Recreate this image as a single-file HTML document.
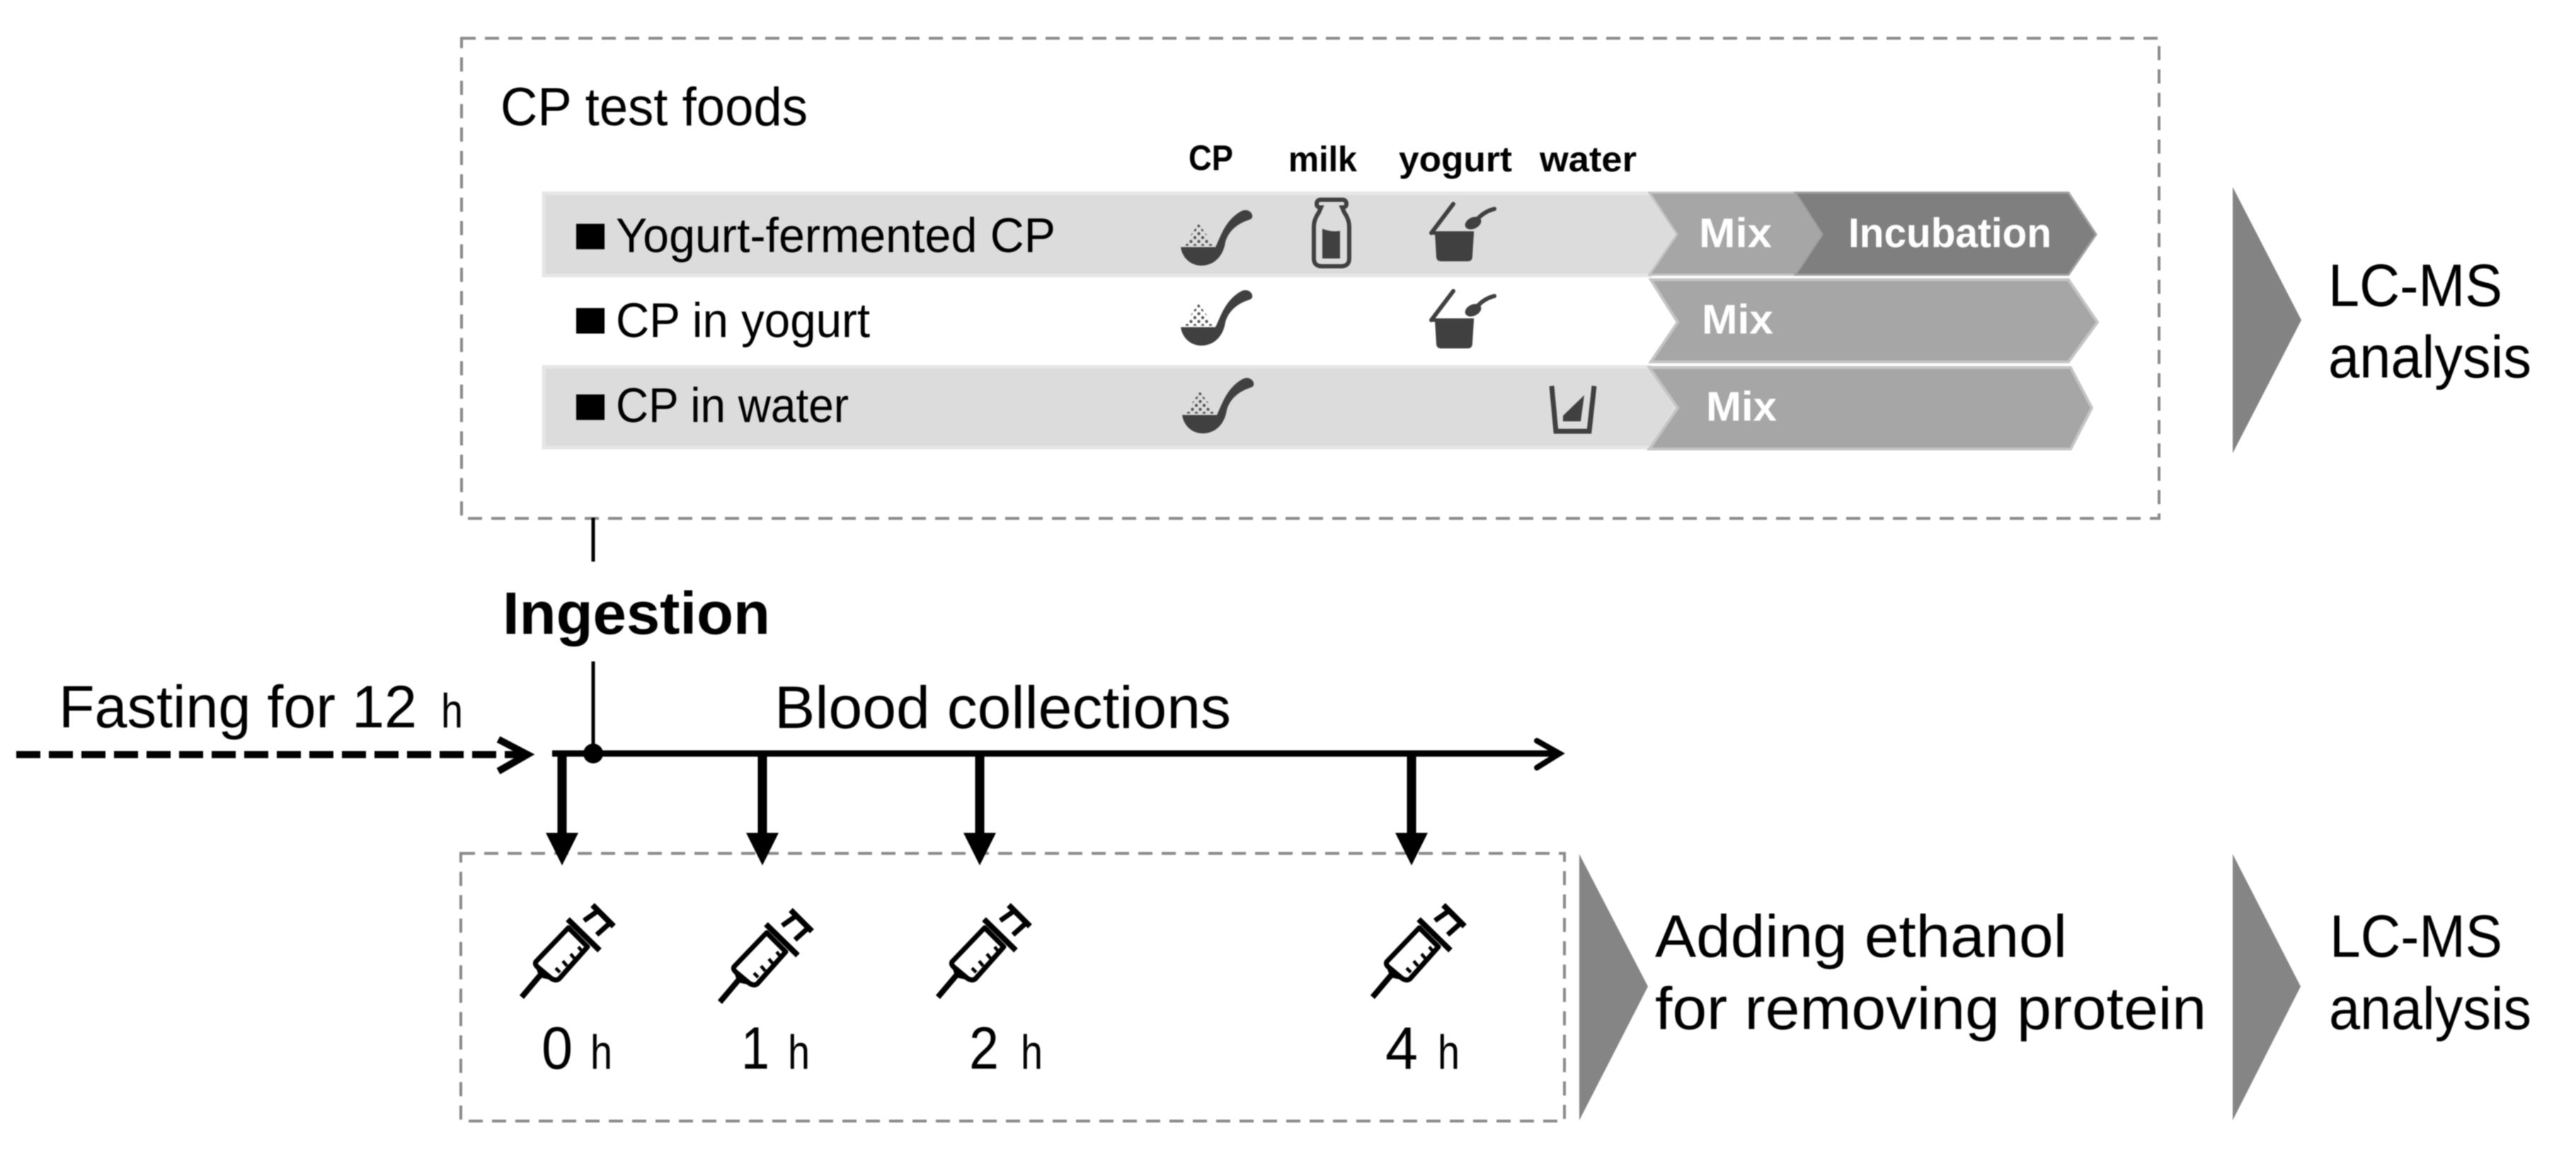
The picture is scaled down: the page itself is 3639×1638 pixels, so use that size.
<!DOCTYPE html>
<html>
<head>
<meta charset="utf-8">
<style>
html,body{margin:0;padding:0;background:#fff;width:3639px;height:1638px;overflow:hidden}
svg{display:block;filter:blur(0.7px)}
text{font-family:"Liberation Sans",sans-serif;fill:#000}
.b{font-weight:bold}
.w{font-weight:bold;fill:#fff;font-size:58px}
.l{font-size:84px}
.r{font-size:69px}
.h{font-size:50px;font-weight:bold}
.u{font-size:68px}
</style>
</head>
<body>
<svg width="3639" height="1638" viewBox="0 0 3639 1638" xmlns="http://www.w3.org/2000/svg">
<defs>
<pattern id="dots" width="11" height="11" patternUnits="userSpaceOnUse" x="1688" y="316">
<circle cx="5.500" cy="3" r="2.200" fill="#555"/>
<circle cx="0" cy="8.500" r="2.200" fill="#555"/>
<circle cx="11" cy="8.500" r="2.200" fill="#555"/>
</pattern>
<g id="spoon">
<polygon points="1693,316 1716,347 1672,347" fill="url(#dots)"/>
<path d="M1668,349 H1717 C1724,335 1730,312 1752,299 C1760,294 1768,298 1769,304 C1770,309 1766,310 1760,312 C1745,318 1735,328 1731,342 C1728,362 1715,375 1697,375 C1682,375 1670,364 1668,349Z" fill="#404040"/>
</g>
<g id="yog">
<path d="M2027,330 H2082 L2080,362 Q2080,369 2073,369 H2036 Q2029,369 2029,362Z" fill="#404040"/>
<path d="M2022,329 H2082" stroke="#404040" stroke-width="5" fill="none"/>
<path d="M2022,329 L2053,288" stroke="#404040" stroke-width="6" fill="none" stroke-linecap="round"/>
<ellipse cx="2081" cy="315" rx="12" ry="8" transform="rotate(-25 2081 315)" fill="#404040"/>
<path d="M2085,312 Q2095,299 2111,295" stroke="#404040" stroke-width="6" fill="none" stroke-linecap="round"/>
</g>
<g id="syr" fill="none" stroke="#000" stroke-width="7">
<path d="M757,1358 L803,1310 L830,1337 L790,1382 Q785,1386 778,1381 L760,1366 Q755,1362 757,1358Z" stroke-linejoin="round"/>
<polygon points="757,1366 784,1385 762,1380" fill="#000" stroke="none"/>
<path d="M764,1376 L737,1408" stroke-width="8"/>
<path d="M802,1298 L847,1342" stroke-width="8"/>
<path d="M837,1278 L867,1308" stroke-width="8"/>
<path d="M845,1286 L825,1300" stroke-width="7"/>
<path d="M862,1303 L843,1320" stroke-width="7"/>
<path d="M785,1367 L791,1373 M795,1357 L801,1364 M806,1347 L812,1354 M817,1337 L822,1343" stroke-width="4.500"/>
</g>
</defs>

<!-- dashed boxes -->
<rect x="652" y="54" width="2398" height="678" fill="none" stroke="#8a8a8a" stroke-width="4" stroke-dasharray="20 13"/>
<rect x="651" y="1205" width="1559" height="378" fill="none" stroke="#8a8a8a" stroke-width="4" stroke-dasharray="20 13"/>

<!-- rows -->
<polygon points="768,273 2332,273 2369,331 2332,389 768,389" fill="#dcdcdc" stroke="#e6e6e6" stroke-width="5"/>
<polygon points="768,518 2332,518 2369,576 2332,632 768,632" fill="#dcdcdc" stroke="#e6e6e6" stroke-width="5"/>

<!-- chevrons -->
<polygon points="2330,272 2536,272 2574,331 2536,388 2330,388 2369,331" fill="#a6a6a6" stroke="#c4c4c4" stroke-width="3"/>
<polygon points="2332,395 2922,395 2963,455 2922,511 2332,511 2370,455" fill="#a6a6a6" stroke="#c4c4c4" stroke-width="4"/>
<polygon points="2330,519 2925,519 2955,576 2925,634 2330,634 2370,576" fill="#a6a6a6" stroke="#c4c4c4" stroke-width="4"/>
<polygon points="2536,272 2922,272 2961,331 2922,388 2536,388 2574,331" fill="#7f7f7f" stroke="#a0a0a0" stroke-width="3"/>

<!-- big triangles -->
<polygon points="3154,264 3251,452 3154,640" fill="#838383"/>
<polygon points="2231,1206 2328,1393 2231,1582" fill="#858585"/>
<polygon points="3154,1206 3250,1393 3154,1582" fill="#858585"/>

<!-- text top -->
<text class="r" x="707" y="177" textLength="434" lengthAdjust="spacingAndGlyphs" style="font-size:76px">CP test foods</text>
<text class="h" x="1679" y="240" textLength="63" lengthAdjust="spacingAndGlyphs">CP</text>
<text class="h" x="1820" y="242" textLength="97" lengthAdjust="spacingAndGlyphs">milk</text>
<text class="h" x="1976" y="242" textLength="160" lengthAdjust="spacingAndGlyphs">yogurt</text>
<text class="h" x="2175" y="242" textLength="137" lengthAdjust="spacingAndGlyphs">water</text>

<rect x="814" y="316" width="40" height="36" fill="#000"/>
<rect x="814" y="435" width="40" height="36" fill="#000"/>
<rect x="814" y="557" width="40" height="36" fill="#000"/>
<text class="r" x="870" y="356" textLength="621" lengthAdjust="spacingAndGlyphs">Yogurt-fermented CP</text>
<text class="r" x="870" y="476" textLength="359" lengthAdjust="spacingAndGlyphs">CP in yogurt</text>
<text class="r" x="870" y="596" textLength="329" lengthAdjust="spacingAndGlyphs">CP in water</text>

<text class="w" x="2400" y="349" textLength="103" lengthAdjust="spacingAndGlyphs">Mix</text>
<text class="w" x="2611" y="349" textLength="287" lengthAdjust="spacingAndGlyphs">Incubation</text>
<text class="w" x="2404" y="471" textLength="101" lengthAdjust="spacingAndGlyphs">Mix</text>
<text class="w" x="2410" y="594" textLength="100" lengthAdjust="spacingAndGlyphs">Mix</text>

<text class="l" x="3289" y="432" textLength="246" lengthAdjust="spacingAndGlyphs">LC-MS</text>
<text class="l" x="3289" y="533" textLength="287" lengthAdjust="spacingAndGlyphs">analysis</text>

<!-- icons -->
<use href="#spoon"/>
<use href="#spoon" transform="translate(0,113)"/>
<use href="#spoon" transform="translate(2,237)"/>
<path d="M1866,282 H1896 Q1902,282 1902,288 Q1902,293 1896,293 L1899,300 Q1906,310 1906,320 V365 Q1906,376 1894,376 H1868 Q1856,376 1856,365 V320 Q1856,310 1863,300 L1866,293 Q1860,293 1860,288 Q1860,282 1866,282Z" fill="none" stroke="#404040" stroke-width="6"/>
<path d="M1868,323 Q1880,328 1893,326 V365 H1868Z" fill="#404040"/>
<use href="#yog"/>
<use href="#yog" transform="translate(0,123)"/>
<path d="M2192,545 L2198,609 H2245 L2252,545" fill="none" stroke="#404040" stroke-width="7"/>
<polygon points="2238,558 2208,587 2208,595 2233,595" fill="#404040"/>

<!-- ingestion line -->
<path d="M838,731 V793" stroke="#000" stroke-width="5" fill="none"/>
<text class="l b" x="710" y="895" textLength="378" lengthAdjust="spacingAndGlyphs">Ingestion</text>
<path d="M838,934 V1064" stroke="#000" stroke-width="5" fill="none"/>

<!-- fasting -->
<text class="l" x="83" y="1027" textLength="506" lengthAdjust="spacingAndGlyphs">Fasting for 12</text>
<text class="u" x="623" y="1027" textLength="31" lengthAdjust="spacingAndGlyphs">h</text>
<path d="M23,1065.500 H736" stroke="#000" stroke-width="10" stroke-dasharray="34 12" fill="none"/>
<path d="M704,1044 L745,1065.500 L704,1089" stroke="#000" stroke-width="10" fill="none"/>

<!-- timeline -->
<path d="M780,1064 H2202" stroke="#000" stroke-width="9" fill="none"/>
<path d="M2171,1046 L2203,1064 L2171,1084" stroke="#000" stroke-width="8" fill="none" stroke-linecap="round"/>
<circle cx="838" cy="1064" r="14" fill="#000"/>
<text class="l" x="1094" y="1028" textLength="645" lengthAdjust="spacingAndGlyphs">Blood collections</text>

<!-- down arrows -->
<g fill="#000">
<rect x="787.500" y="1064" width="13" height="114"/><polygon points="771,1176 817,1176 794,1222"/>
<rect x="1070.500" y="1064" width="13" height="114"/><polygon points="1054,1176 1100,1176 1077,1222"/>
<rect x="1377.500" y="1064" width="13" height="114"/><polygon points="1361,1176 1407,1176 1384,1222"/>
<rect x="1987.500" y="1064" width="13" height="114"/><polygon points="1971,1176 2017,1176 1994,1222"/>
</g>

<!-- syringes -->
<use href="#syr"/>
<use href="#syr" transform="translate(280,7)"/>
<use href="#syr" transform="translate(588,0)"/>
<use href="#syr" transform="translate(1202,0)"/>

<!-- hours -->
<text class="l" x="765" y="1509" textLength="44" lengthAdjust="spacingAndGlyphs">0</text>
<text class="u" x="834" y="1509" textLength="31" lengthAdjust="spacingAndGlyphs">h</text>
<text class="l" x="1047" y="1509" textLength="40" lengthAdjust="spacingAndGlyphs">1</text>
<text class="u" x="1113" y="1509" textLength="31" lengthAdjust="spacingAndGlyphs">h</text>
<text class="l" x="1369" y="1509" textLength="42" lengthAdjust="spacingAndGlyphs">2</text>
<text class="u" x="1442" y="1509" textLength="31" lengthAdjust="spacingAndGlyphs">h</text>
<text class="l" x="1957" y="1509" textLength="46" lengthAdjust="spacingAndGlyphs">4</text>
<text class="u" x="2031" y="1509" textLength="31" lengthAdjust="spacingAndGlyphs">h</text>

<!-- bottom right text -->
<text class="l" x="2338" y="1351" textLength="582" lengthAdjust="spacingAndGlyphs">Adding ethanol</text>
<text class="l" x="2338" y="1453" textLength="779" lengthAdjust="spacingAndGlyphs">for removing protein</text>
<text class="l" x="3291" y="1351" textLength="244" lengthAdjust="spacingAndGlyphs">LC-MS</text>
<text class="l" x="3290" y="1453" textLength="286" lengthAdjust="spacingAndGlyphs">analysis</text>
</svg>
</body>
</html>
